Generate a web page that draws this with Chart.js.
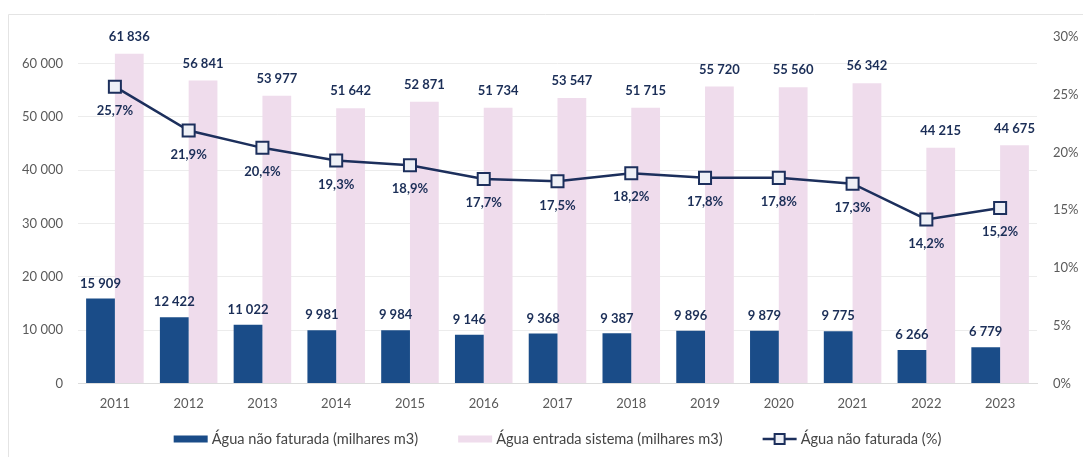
<!DOCTYPE html>
<html>
<head>
<meta charset="utf-8">
<script src="https://cdn.jsdelivr.net/npm/chart.js@4/dist/chart.umd.min.js"></script>
<style>
  html, body { margin: 0; padding: 0; background: #fff; }
  #wrap { width: 1083px; height: 457px; position: relative; }
</style>
</head>
<body>
<div id="wrap"><canvas id="c" width="1083" height="457"></canvas></div>
<script>
// Categories
const years = ['2011','2012','2013','2014','2015','2016','2017','2018','2019','2020','2021','2022','2023'];

// Series (thousand m3 and %)
const aguaNaoFaturada = [15909, 12422, 11022, 9981, 9984, 9146, 9368, 9387, 9896, 9879, 9775, 6266, 6779];
const aguaEntradaSistema = [61836, 56841, 53977, 51642, 52871, 51734, 53547, 51715, 55720, 55560, 56342, 44215, 44675];
const aguaNaoFaturadaPct = [25.7, 21.9, 20.4, 19.3, 18.9, 17.7, 17.5, 18.2, 17.8, 17.8, 17.3, 14.2, 15.2];

// Axis ticks
const volumeTicks = [0, 10000, 20000, 30000, 40000, 50000, 60000];
const pctTicks = [0, 5, 10, 15, 20, 25, 30];

// Series names
const seriesNames = [
  'Água não faturada (milhares m3)',
  'Água entrada sistema (milhares m3)',
  'Água não faturada (%)'
];

const DARK_BLUE = '#1a4c88';
const PINK = '#efdcec';
const LINE = '#1c2f5c';
const LABEL = '#1b2e57';
const TICK = '#5a5a5a';
const FONT = 'Lato, "Open Sans", sans-serif';

const fmtThousands = v => String(v).replace(/\B(?=(\d{3})+(?!\d))/g, ' ');
const fmtPct = v => v.toFixed(1).replace('.', ',') + '%';

// Value labels on bars and line points
const valueLabels = {
  id: 'valueLabels',
  afterDatasetsDraw(chart) {
    const ctx = chart.ctx;
    ctx.save();
    ctx.font = 'bold 13px ' + FONT;
    ctx.fillStyle = LABEL;
    ctx.textAlign = 'center';
    ctx.textBaseline = 'middle';
    chart.data.datasets.forEach((ds, i) => {
      const meta = chart.getDatasetMeta(i);
      meta.data.forEach((el, j) => {
        const v = ds.data[j];
        if (ds.type === 'line') {
          ctx.fillText(fmtPct(v), el.x, el.y + 24);
        } else if (ds.labelKind === 'entrada') {
          ctx.fillText(fmtThousands(v), el.x, el.y - 17);
        } else {
          ctx.fillText(fmtThousands(v), el.x, el.y - 15);
        }
      });
    });
    ctx.restore();
  }
};

// Bottom legend and faint frame
const customLegend = {
  id: 'customLegend',
  beforeDraw(chart) {
    const ctx = chart.ctx;
    ctx.save();
    ctx.fillStyle = '#fff';
    ctx.fillRect(0, 0, chart.width, chart.height);
    ctx.strokeStyle = '#e4e4e4';
    ctx.lineWidth = 1;
    ctx.beginPath();
    ctx.moveTo(8.5, chart.height);
    ctx.lineTo(8.5, 14.5);
    ctx.lineTo(chart.width, 14.5);
    ctx.stroke();
    ctx.restore();
  },
  afterDraw(chart) {
    const ctx = chart.ctx;
    ctx.save();
    ctx.font = '14.6px ' + FONT;
    ctx.textBaseline = 'middle';
    ctx.fillStyle = '#454545';
    const sw = 34, gap = 4, itemGap = 40;
    const widths = seriesNames.map(t => sw + gap + ctx.measureText(t).width);
    const total = widths.reduce((a, b) => a + b, 0) + itemGap * (seriesNames.length - 1);
    const ca = chart.chartArea;
    let x = (ca.left + ca.right) / 2 - total / 2;
    const y = 439;
    seriesNames.forEach((t, i) => {
      if (i === 0 || i === 1) {
        ctx.fillStyle = i === 0 ? DARK_BLUE : PINK;
        ctx.fillRect(x, y - 3.5, sw, 7);
      } else {
        ctx.strokeStyle = LINE;
        ctx.lineWidth = 2.5;
        ctx.beginPath();
        ctx.moveTo(x, y);
        ctx.lineTo(x + sw, y);
        ctx.stroke();
        ctx.fillStyle = '#eef0f6';
        ctx.lineWidth = 2;
        ctx.fillRect(x + sw / 2 - 5, y - 5, 10, 10);
        ctx.strokeRect(x + sw / 2 - 5, y - 5, 10, 10);
      }
      ctx.fillStyle = '#454545';
      ctx.textAlign = 'left';
      ctx.fillText(t, x + sw + gap, y);
      x += widths[i] + itemGap;
    });
    ctx.restore();
  }
};

new Chart(document.getElementById('c'), {
  data: {
    labels: years,
    datasets: [
      {
        type: 'bar',
        label: seriesNames[0],
        data: aguaNaoFaturada,
        backgroundColor: DARK_BLUE,
        yAxisID: 'y',
        order: 1,
        categoryPercentage: 0.78,
        barPercentage: 1.0
      },
      {
        type: 'bar',
        label: seriesNames[1],
        labelKind: 'entrada',
        data: aguaEntradaSistema,
        backgroundColor: PINK,
        yAxisID: 'y',
        order: 1,
        categoryPercentage: 0.78,
        barPercentage: 1.0
      },
      {
        type: 'line',
        label: seriesNames[2],
        data: aguaNaoFaturadaPct,
        yAxisID: 'y1',
        order: 0,
        borderColor: LINE,
        borderWidth: 2.5,
        pointStyle: 'rect',
        pointRadius: 8.5,
        pointBorderWidth: 2,
        pointBorderColor: LINE,
        pointBackgroundColor: '#eef0f6',
        tension: 0
      }
    ]
  },
  options: {
    responsive: false,
    devicePixelRatio: 1,
    animation: false,
    layout: { padding: { top: 37, bottom: 32, left: 0, right: 0 } },
    plugins: {
      legend: { display: false },
      tooltip: { enabled: false }
    },
    scales: {
      x: {
        grid: { display: false, drawTicks: false },
        border: { display: true, color: '#dcdcdc' },
        ticks: { color: TICK, font: { family: FONT, size: 13 }, padding: 13 }
      },
      y: {
        position: 'left',
        min: 0,
        max: 65000,
        afterBuildTicks(scale) {
          scale.ticks = volumeTicks.map(v => ({ value: v }));
        },
        afterFit(scale) { scale.width = 78; },
        grid: { color: '#ececec', drawTicks: false },
        border: { display: false },
        ticks: {
          color: TICK,
          font: { family: FONT, size: 13 },
          padding: 15,
          callback: v => fmtThousands(v)
        }
      },
      y1: {
        position: 'right',
        min: 0,
        max: 30,
        afterBuildTicks(scale) {
          scale.ticks = pctTicks.map(v => ({ value: v }));
        },
        afterFit(scale) { scale.width = 46; },
        grid: { drawOnChartArea: false, drawTicks: false },
        border: { display: false },
        ticks: {
          color: TICK,
          font: { family: FONT, size: 13 },
          padding: 16,
          callback: v => v + '%'
        }
      }
    }
  },
  plugins: [valueLabels, customLegend]
});
</script>
</body>
</html>
